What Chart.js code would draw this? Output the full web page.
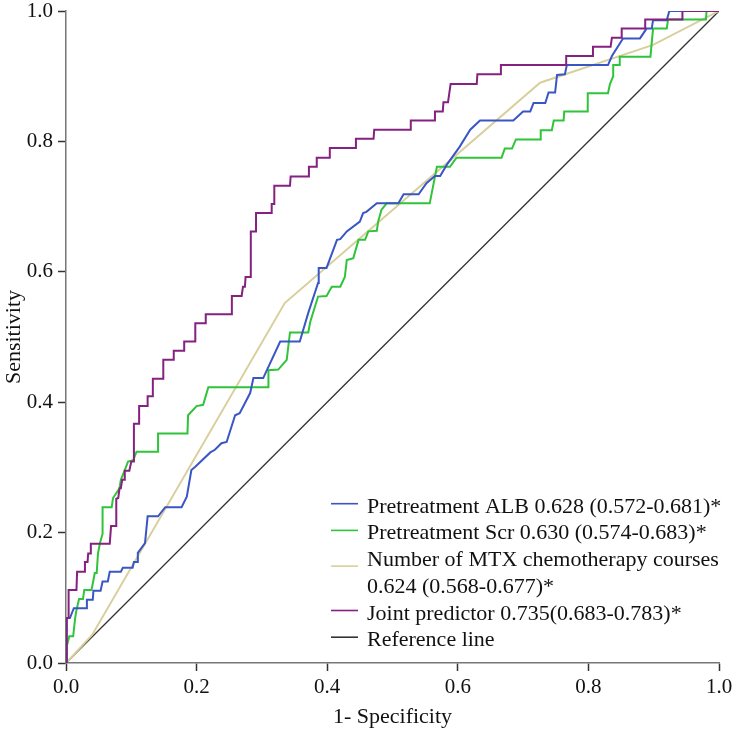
<!DOCTYPE html>
<html>
<head>
<meta charset="utf-8">
<script src="https://cdn.jsdelivr.net/npm/chart.js@4.4.1/dist/chart.umd.min.js"></script>
<style>
  html, body { margin: 0; padding: 0; background: #fff; }
</style>
</head>
<body>
<canvas id="roc" width="735" height="730"></canvas>
<script>
// ROC points: [1 - specificity, sensitivity]
const albPoints = [[0,0],[0.001,0.069],[0.006,0.069],[0.012,0.084],[0.032,0.084],[0.032,0.097],[0.041,0.097],[0.042,0.111],
  [0.053,0.111],[0.056,0.125],[0.064,0.125],[0.067,0.140],[0.084,0.140],[0.087,0.146],[0.102,0.146],[0.104,0.155],
  [0.110,0.155],[0.110,0.169],[0.121,0.184],[0.125,0.225],[0.141,0.225],[0.152,0.239],[0.177,0.239],[0.185,0.255],
  [0.192,0.296],[0.198,0.301],[0.221,0.323],[0.228,0.327],[0.238,0.337],[0.246,0.339],[0.259,0.380],[0.266,0.383],
  [0.282,0.414],[0.287,0.437],[0.302,0.437],[0.328,0.493],[0.358,0.493],[0.371,0.537],[0.386,0.583],[0.387,0.606],
  [0.399,0.606],[0.415,0.649],[0.420,0.650],[0.430,0.662],[0.450,0.677],[0.455,0.690],[0.460,0.692],[0.476,0.705],
  [0.509,0.705],[0.517,0.719],[0.540,0.719],[0.552,0.736],[0.565,0.747],[0.573,0.747],[0.583,0.764],[0.603,0.792],
  [0.619,0.818],[0.634,0.832],[0.685,0.832],[0.700,0.846],[0.711,0.846],[0.716,0.859],[0.734,0.859],[0.739,0.875],
  [0.749,0.875],[0.752,0.902],[0.764,0.903],[0.767,0.917],[0.830,0.917],[0.836,0.931],[0.853,0.958],[0.879,0.958],
  [0.889,0.973],[0.897,0.973],[0.899,0.986],[0.920,0.986],[0.924,1],[1,1]];

const scrPoints = [[0,0],[0.001,0.025],[0.005,0.041],[0.011,0.041],[0.014,0.069],[0.016,0.081],[0.020,0.098],[0.026,0.098],
  [0.028,0.112],[0.039,0.112],[0.042,0.127],[0.044,0.138],[0.047,0.138],[0.049,0.168],[0.052,0.184],[0.056,0.198],
  [0.056,0.239],[0.070,0.239],[0.072,0.253],[0.082,0.268],[0.084,0.281],[0.090,0.296],[0.095,0.309],[0.103,0.311],
  [0.108,0.324],[0.141,0.324],[0.141,0.352],[0.186,0.352],[0.187,0.380],[0.200,0.394],[0.210,0.396],[0.218,0.423],
  [0.310,0.423],[0.310,0.449],[0.325,0.450],[0.338,0.465],[0.343,0.507],[0.371,0.507],[0.374,0.523],[0.386,0.562],
  [0.399,0.563],[0.407,0.577],[0.420,0.577],[0.427,0.592],[0.430,0.618],[0.440,0.621],[0.448,0.649],[0.458,0.649],
  [0.463,0.662],[0.476,0.663],[0.478,0.677],[0.483,0.695],[0.491,0.705],[0.557,0.705],[0.568,0.761],[0.588,0.761],
  [0.598,0.775],[0.667,0.775],[0.672,0.789],[0.683,0.789],[0.689,0.803],[0.726,0.803],[0.727,0.817],[0.744,0.817],
  [0.747,0.832],[0.762,0.832],[0.763,0.846],[0.799,0.846],[0.799,0.874],[0.830,0.874],[0.833,0.888],[0.838,0.900],
  [0.838,0.917],[0.847,0.917],[0.848,0.930],[0.895,0.930],[0.899,0.973],[0.920,0.973],[0.922,0.987],[0.980,0.987],
  [0.981,1],[1,1]];

const mtxPoints = [[0,0],[0.040,0.043],[0.335,0.552],[0.726,0.890],[0.899,0.948],[1,1]];

const jointPoints = [[0,0],[0.001,0.069],[0.004,0.069],[0.004,0.112],[0.016,0.112],[0.017,0.140],[0.028,0.140],[0.029,0.155],
  [0.033,0.155],[0.034,0.168],[0.037,0.168],[0.038,0.183],[0.067,0.183],[0.069,0.210],[0.077,0.210],[0.077,0.252],
  [0.080,0.253],[0.082,0.268],[0.084,0.268],[0.086,0.281],[0.089,0.281],[0.090,0.295],[0.097,0.295],[0.100,0.309],
  [0.104,0.309],[0.104,0.367],[0.112,0.367],[0.112,0.394],[0.125,0.394],[0.125,0.409],[0.132,0.409],[0.133,0.436],
  [0.149,0.436],[0.149,0.465],[0.165,0.465],[0.165,0.479],[0.181,0.479],[0.181,0.493],[0.198,0.493],[0.198,0.521],
  [0.213,0.521],[0.214,0.535],[0.254,0.535],[0.254,0.563],[0.269,0.563],[0.271,0.577],[0.274,0.577],[0.275,0.592],
  [0.282,0.592],[0.283,0.662],[0.291,0.662],[0.291,0.690],[0.315,0.690],[0.315,0.704],[0.319,0.704],[0.319,0.732],
  [0.343,0.732],[0.344,0.746],[0.371,0.746],[0.372,0.761],[0.384,0.761],[0.384,0.775],[0.403,0.775],[0.404,0.790],
  [0.443,0.790],[0.444,0.804],[0.471,0.804],[0.472,0.818],[0.528,0.818],[0.528,0.832],[0.565,0.832],[0.565,0.846],
  [0.577,0.846],[0.578,0.860],[0.585,0.860],[0.587,0.874],[0.589,0.888],[0.629,0.888],[0.630,0.903],[0.666,0.903],
  [0.666,0.917],[0.766,0.917],[0.766,0.931],[0.807,0.931],[0.807,0.945],[0.834,0.945],[0.836,0.959],[0.851,0.959],
  [0.851,0.973],[0.887,0.973],[0.887,0.987],[0.944,0.987],[0.944,1],[1,1]];

const refPoints = [[0,0],[1,1]];

const seriesNames = [
  ["Pretreatment ALB 0.628 (0.572-0.681)*"],
  ["Pretreatment Scr 0.630 (0.574-0.683)*"],
  ["Number of MTX chemotherapy courses", "0.624 (0.568-0.677)*"],
  ["Joint predictor 0.735(0.683-0.783)*"],
  ["Reference line"]
];
const seriesColors = ["#3a56c4", "#2fc43a", "#d9cf9c", "#85217f", "#333333"];
const seriesPoints = [albPoints, scrPoints, mtxPoints, jointPoints, refPoints];

const FONT = '"Liberation Serif", "Times New Roman", serif';

function toXY(points) {
  return points.map(p => ({ x: p[0], y: p[1] }));
}

const datasets = seriesPoints.map((pts, i) => ({
  label: seriesNames[i].join(" "),
  data: toXY(pts),
  borderColor: seriesColors[i],
  borderWidth: i === 4 ? 1.3 : 2,
  pointRadius: 0,
  tension: 0,
  fill: false,
  order: i === 3 ? 0 : 1
}));

// legend drawn inside the plot, lower right
const insideLegend = {
  id: 'insideLegend',
  afterDraw(chart) {
    const ctx = chart.ctx;
    ctx.save();
    ctx.font = '22px ' + FONT;
    ctx.textBaseline = 'alphabetic';
    ctx.textAlign = 'left';
    let baseline = 512.7;
    const step = 26.7;
    seriesNames.forEach((lines, i) => {
      const markY = baseline - 9 + (lines.length - 1) * 9;
      ctx.strokeStyle = seriesColors[i];
      ctx.lineWidth = 1.6;
      ctx.beginPath();
      ctx.moveTo(331, markY);
      ctx.lineTo(358, markY);
      ctx.stroke();
      ctx.fillStyle = '#111';
      lines.forEach(t => {
        ctx.fillText(t, 367, baseline);
        baseline += step;
      });
    });
    ctx.restore();
  }
};

const tickFmt = v => v.toFixed(1);

new Chart(document.getElementById('roc'), {
  type: 'line',
  data: { datasets },
  plugins: [insideLegend],
  options: {
    responsive: false,
    animation: false,
    layout: { padding: { top: 11, right: 16, left: 0, bottom: 0 } },
    plugins: { legend: { display: false }, tooltip: { enabled: false } },
    scales: {
      x: {
        type: 'linear',
        min: 0, max: 1,
        ticks: { stepSize: 0.2, callback: tickFmt, color: '#111', font: { family: FONT, size: 21 }, padding: 4, maxRotation: 0 },
        grid: { drawOnChartArea: false, drawTicks: true, tickLength: 8, tickColor: '#333', tickWidth: 1.5 },
        border: { display: true, color: '#777', width: 1.5 },
        title: { display: true, text: '1- Specificity', color: '#111', font: { family: FONT, size: 22 }, padding: 0 },
        afterFit(scale) { scale.height = 67; scale.paddingLeft = 0; scale.paddingRight = 0; }
      },
      y: {
        type: 'linear',
        min: 0, max: 1,
        ticks: { stepSize: 0.2, callback: tickFmt, color: '#111', font: { family: FONT, size: 21 }, padding: 5 },
        grid: { drawOnChartArea: false, drawTicks: true, tickLength: 8, tickColor: '#333', tickWidth: 1.5 },
        border: { display: true, color: '#777', width: 1.5 },
        title: { display: true, text: 'Sensitivity', color: '#111', font: { family: FONT, size: 22 }, padding: { top: 1, bottom: 0 } },
        afterFit(scale) { scale.width = 66; scale.paddingTop = 0; scale.paddingBottom = 0; }
      }
    }
  }
});
</script>
</body>
</html>
